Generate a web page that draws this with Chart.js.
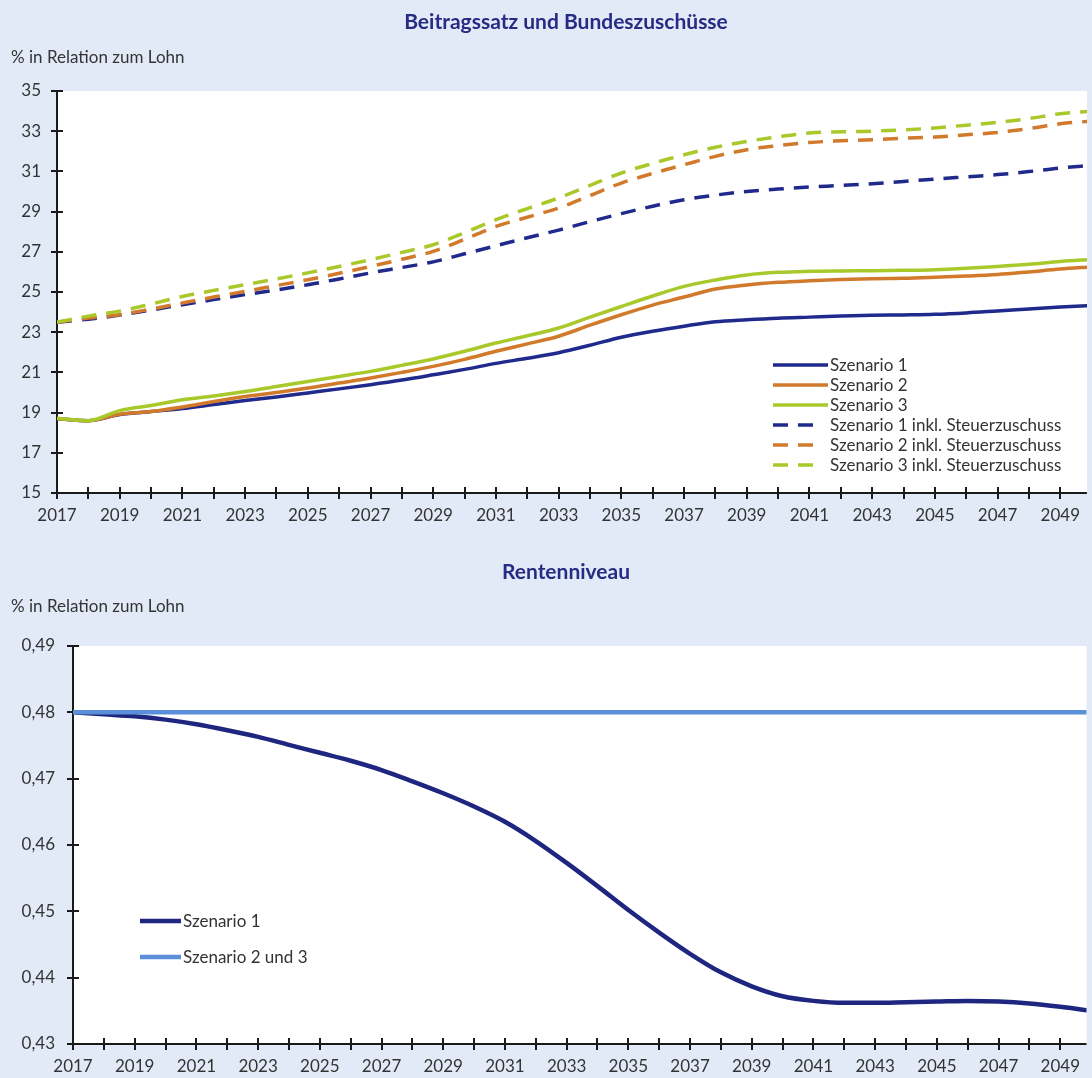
<!DOCTYPE html>
<html>
<head>
<meta charset="utf-8">
<script src="https://cdn.jsdelivr.net/npm/chart.js@4.4.1/dist/chart.umd.min.js"></script>
<style>
  html, body { margin: 0; padding: 0; background: #e2eaf8; }
  body { width: 1092px; height: 1078px; overflow: hidden; position: relative; font-family: Lato, sans-serif; }
  .panel { position: absolute; left: 0; width: 1092px; }
  canvas { display: block; }
  .title { position: absolute; left: 0; width: 1132px; text-align: center; color: #262c84; font-weight: bold; font-size: 21px; line-height: 1; }
  .unit { position: absolute; left: 11px; color: #333; font-size: 17px; line-height: 1; }
</style>
</head>
<body>
<div class="panel" style="top:0;height:540px"><canvas id="chartTop" width="1092" height="540"></canvas></div>
<div class="panel" style="top:540px;height:538px"><canvas id="chartBottom" width="1092" height="538"></canvas></div>
<div class="title" style="top:10px">Beitragssatz und Bundeszuschüsse</div>
<div class="unit" style="top:48px">% in Relation zum Lohn</div>
<div class="title" style="top:560px">Rentenniveau</div>
<div class="unit" style="top:597px">% in Relation zum Lohn</div>
<script>
// Jahre (Kategorien)
const years = [2017, 2018, 2019, 2020, 2021, 2022, 2023, 2024, 2025, 2026, 2027, 2028,
  2029, 2030, 2031, 2032, 2033, 2034, 2035, 2036, 2037, 2038, 2039, 2040, 2041, 2042,
  2043, 2044, 2045, 2046, 2047, 2048, 2049, 2050];

// Tick-Beschriftungen
const xTickYears = [2017, 2018, 2019, 2020, 2021, 2022, 2023, 2024, 2025, 2026, 2027, 2028,
  2029, 2030, 2031, 2032, 2033, 2034, 2035, 2036, 2037, 2038, 2039, 2040, 2041, 2042,
  2043, 2044, 2045, 2046, 2047, 2048, 2049];
const yTicksTop = [15, 17, 19, 21, 23, 25, 27, 29, 31, 33, 35];
const yTicksBottom = [0.43, 0.44, 0.45, 0.46, 0.47, 0.48, 0.49];

// Beitragssatz
const beitragSz1 = [18.7, 18.6, 18.9, 19.05, 19.2, 19.4, 19.6, 19.78, 19.98, 20.18, 20.39, 20.62,
  20.88, 21.15, 21.45, 21.7, 21.98, 22.35, 22.75, 23.05, 23.3, 23.52, 23.62, 23.7, 23.75, 23.8,
  23.84, 23.86, 23.89, 23.96, 24.06, 24.16, 24.25, 24.33];
const beitragSz2 = [18.7, 18.6, 18.92, 19.05, 19.28, 19.55, 19.8, 20.0, 20.22, 20.47, 20.72, 21.0,
  21.3, 21.65, 22.05, 22.42, 22.8, 23.35, 23.87, 24.35, 24.75, 25.15, 25.35, 25.48, 25.56, 25.62,
  25.66, 25.68, 25.73, 25.79, 25.87, 26.0, 26.14, 26.25];
const beitragSz3 = [18.72, 18.6, 19.1, 19.35, 19.64, 19.83, 20.05, 20.3, 20.55, 20.8, 21.05, 21.35,
  21.67, 22.05, 22.46, 22.82, 23.21, 23.75, 24.28, 24.8, 25.28, 25.6, 25.85, 25.98, 26.03, 26.05,
  26.06, 26.08, 26.11, 26.18, 26.27, 26.38, 26.52, 26.62];

// Beitragssatz inkl. Steuerzuschuss
const steuerSz1 = [23.5, 23.65, 23.85, 24.1, 24.37, 24.62, 24.87, 25.1, 25.36, 25.65, 25.95, 26.22,
  26.5, 26.9, 27.3, 27.7, 28.08, 28.5, 28.9, 29.27, 29.59, 29.82, 30.0, 30.12, 30.22, 30.3,
  30.39, 30.5, 30.62, 30.73, 30.84, 30.99, 31.17, 31.3];
const steuerSz2 = [23.5, 23.7, 23.87, 24.15, 24.45, 24.75, 25.03, 25.32, 25.61, 25.93, 26.27, 26.63,
  27.02, 27.62, 28.26, 28.72, 29.18, 29.8, 30.42, 30.9, 31.33, 31.75, 32.08, 32.28, 32.44, 32.52,
  32.58, 32.65, 32.71, 32.82, 32.94, 33.13, 33.37, 33.5];
const steuerSz3 = [23.5, 23.8, 24.05, 24.4, 24.78, 25.08, 25.36, 25.65, 25.95, 26.27, 26.61, 26.97,
  27.35, 27.95, 28.6, 29.15, 29.68, 30.3, 30.92, 31.4, 31.83, 32.2, 32.49, 32.72, 32.91, 32.97,
  33.0, 33.07, 33.16, 33.3, 33.44, 33.63, 33.87, 34.0];

// Rentenniveau
const rentenSz1 = [0.48, 0.4797, 0.4794, 0.4789, 0.4782, 0.4773, 0.4763, 0.4751, 0.4739, 0.4727,
  0.4713, 0.4696, 0.4678, 0.4658, 0.4635, 0.4606, 0.4573, 0.4538, 0.4502, 0.4468, 0.4436, 0.4408,
  0.4387, 0.4372, 0.4365, 0.4362, 0.4362, 0.4363, 0.4364, 0.4365, 0.4364, 0.4361, 0.4356, 0.435];
const rentenSz23 = [0.48, 0.48, 0.48, 0.48, 0.48, 0.48, 0.48, 0.48, 0.48, 0.48, 0.48, 0.48,
  0.48, 0.48, 0.48, 0.48, 0.48, 0.48, 0.48, 0.48, 0.48, 0.48, 0.48, 0.48, 0.48, 0.48,
  0.48, 0.48, 0.48, 0.48, 0.48, 0.48, 0.48, 0.48];

const NAVY = '#1f2a8c';
const ORANGE = '#d27a2c';
const GREEN = '#a9c92b';
const TEXT = '#333333';
const FONT = 'Lato';

// weisser Plotbereich + Achsen mit durchgehenden Tickstrichen
const axisPlugin = {
  id: 'axisLines',
  beforeDraw(chart) {
    const { ctx, chartArea: a } = chart;
    ctx.save();
    ctx.fillStyle = '#ffffff';
    ctx.fillRect(a.left, a.top, a.right - a.left, a.bottom - a.top);
    ctx.restore();
  },
  beforeDatasetsDraw(chart) {
    const { ctx, chartArea: a, scales } = chart;
    ctx.save();
    ctx.strokeStyle = '#1a1a1a';
    ctx.lineWidth = 2;
    ctx.beginPath();
    ctx.moveTo(a.left, a.top);
    ctx.lineTo(a.left, a.bottom);
    ctx.moveTo(a.left, a.bottom);
    ctx.lineTo(a.right, a.bottom);
    scales.y.ticks.forEach(t => {
      const py = Math.round(scales.y.getPixelForValue(t.value));
      ctx.moveTo(a.left - 6, py);
      ctx.lineTo(a.left + 6, py);
    });
    scales.x.ticks.forEach(t => {
      const px = Math.round(scales.x.getPixelForValue(t.value));
      ctx.moveTo(px, a.bottom - 6);
      ctx.lineTo(px, a.bottom + 6);
    });
    ctx.stroke();
    ctx.restore();
  }
};

// Legende an fester Stelle im Plot
const legendPlugin = {
  id: 'fixedLegend',
  afterDatasetsDraw(chart, args, opts) {
    const ctx = chart.ctx;
    chart.data.datasets.forEach((ds, i) => {
      const y = opts.y + i * opts.rowH;
      ctx.save();
      ctx.strokeStyle = ds.borderColor;
      ctx.lineWidth = opts.lineWidth || ds.borderWidth;
      ctx.setLineDash(ds.borderDash || []);
      ctx.beginPath();
      ctx.moveTo(opts.x, y);
      ctx.lineTo(opts.x + (ds.borderDash ? opts.dashLen : opts.lineLen), y);
      ctx.stroke();
      ctx.setLineDash([]);
      ctx.fillStyle = TEXT;
      ctx.font = opts.fontSize + 'px ' + FONT;
      ctx.textBaseline = 'middle';
      ctx.fillText(ds.label, opts.textX, y + 1);
      ctx.restore();
    });
  }
};

function xAxis(height) {
  return {
    type: 'linear',
    min: 2017,
    max: 2049.85,
    afterBuildTicks: s => { s.ticks = xTickYears.map(v => ({ value: v })); },
    afterFit: s => { s.height = height; },
    grid: { display: false, drawTicks: false },
    border: { display: false },
    ticks: {
      autoSkip: false, maxRotation: 0, minRotation: 0, padding: 12,
      color: TEXT, font: { family: FONT, size: 17 },
      callback: v => (v % 2 === 1 ? String(v) : '')
    }
  };
}

function yAxis(min, max, tickList, width, pad, fmt) {
  return {
    min: min,
    max: max,
    afterBuildTicks: s => { s.ticks = tickList.map(v => ({ value: v })); },
    afterFit: s => { s.width = width; },
    grid: { display: false, drawTicks: false },
    border: { display: false },
    ticks: { padding: pad, color: TEXT, font: { family: FONT, size: 17 }, callback: fmt }
  };
}

function line(label, data, color, width, dash, order) {
  const ds = {
    label: label, data: data, borderColor: color, backgroundColor: color,
    borderWidth: width, pointRadius: 0, fill: false, cubicInterpolationMode: 'monotone',
    order: order
  };
  if (dash) ds.borderDash = dash;
  return ds;
}

const DASH = [15, 10];

new Chart(document.getElementById('chartTop'), {
  type: 'line',
  data: {
    labels: years,
    datasets: [
      line('Szenario 1', beitragSz1, NAVY, 3.5, null, 5),
      line('Szenario 2', beitragSz2, ORANGE, 3.5, null, 4),
      line('Szenario 3', beitragSz3, GREEN, 3.5, null, 3),
      line('Szenario 1 inkl. Steuerzuschuss', steuerSz1, NAVY, 3.5, DASH, 2),
      line('Szenario 2 inkl. Steuerzuschuss', steuerSz2, ORANGE, 3.5, DASH, 1),
      line('Szenario 3 inkl. Steuerzuschuss', steuerSz3, GREEN, 3.5, DASH, 0)
    ]
  },
  options: {
    responsive: false,
    animation: false,
    layout: { padding: { top: 91, left: 0, right: 0, bottom: 0 } },
    scales: {
      x: xAxis(47),
      y: yAxis(15, 35, yTicksTop, 57, 16, v => String(v))
    },
    plugins: {
      legend: { display: false },
      tooltip: { enabled: false },
      fixedLegend: { x: 773, y: 365, rowH: 20, lineLen: 55, dashLen: 42, textX: 830, fontSize: 17 }
    }
  },
  plugins: [axisPlugin, legendPlugin]
});

new Chart(document.getElementById('chartBottom'), {
  type: 'line',
  data: {
    labels: years,
    datasets: [
      line('Szenario 1', rentenSz1, '#1e2680', 4.5, null, 1),
      line('Szenario 2 und 3', rentenSz23, '#5b8fd9', 4.5, null, 0)
    ]
  },
  options: {
    responsive: false,
    animation: false,
    layout: { padding: { top: 106, left: 0, right: 0, bottom: 0 } },
    scales: {
      x: xAxis(34),
      y: yAxis(0.43, 0.49, yTicksBottom, 73, 18, v => v.toFixed(2).replace('.', ','))
    },
    plugins: {
      legend: { display: false },
      tooltip: { enabled: false },
      fixedLegend: { x: 140, y: 381, rowH: 36, lineLen: 41, dashLen: 41, textX: 183, fontSize: 17 }
    }
  },
  plugins: [axisPlugin, legendPlugin]
});
</script>
</body>
</html>
